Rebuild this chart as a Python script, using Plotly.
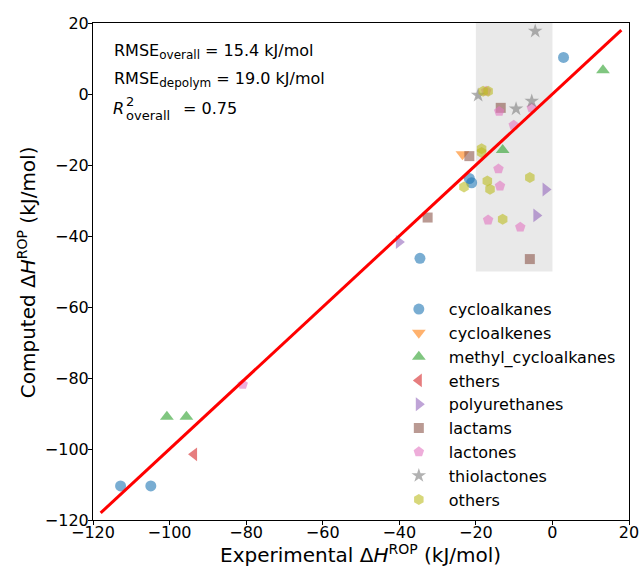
import plotly.graph_objects as go

# ---- data (Experimental, Computed) in kJ/mol ----
categories = ["cycloalkanes", "cycloalkenes", "methyl_cycloalkanes", "ethers",
              "polyurethanes", "lactams", "lactones", "thiolactones", "others"]

cycloalkanes_x = [2.9, -21.7, -21.1, -34.6, -112.8, -104.9]
cycloalkanes_y = [10.3, -23.8, -25.0, -46.3, -110.4, -110.4]

cycloalkenes_x = [-23.5]
cycloalkenes_y = [-17.0]

methyl_cycloalkanes_x = [13.2, -13.0, -100.7, -95.6]
methyl_cycloalkanes_y = [6.7, -15.8, -90.9, -90.9]

ethers_x = [-93.6]
ethers_y = [-101.5]

polyurethanes_x = [-1.8, -4.2, -40.1]
polyurethanes_y = [-26.9, -34.2, -41.7]

lactams_x = [-13.5, -21.7, -32.6, -5.9]
lactams_y = [-3.9, -17.5, -34.8, -46.5]

lactones_x = [-17.3, -13.9, -5.4, -10.1, -14.1, -13.7, -16.8, -8.4, -80.9]
lactones_y = [0.8, -4.9, -3.9, -8.8, -21.1, -25.9, -35.5, -37.5, -81.8]

thiolactones_x = [-4.5, -19.4, -9.5, -5.4]
thiolactones_y = [17.7, -0.35, -4.2, -2.0]

others_x = [-18.1, -16.8, -18.5, -18.5, -23.1, -17.0, -16.3, -5.9, -13.0]
others_y = [0.8, 0.8, -15.4, -16.5, -26.2, -24.5, -26.8, -23.5, -35.3]

parity_x = [-118, 18]
parity_y = [-118, 18]

band_x = [-20, 0]
band_y = [-50, 20]

x_ticks = [-120, -100, -80, -60, -40, -20, 0, 20]
y_ticks = [-120, -100, -80, -60, -40, -20, 0, 20]

series = [
    (cycloalkanes_x, cycloalkanes_y, "#1f77b4", "circle", 11),
    (cycloalkenes_x, cycloalkenes_y, "#ff7f0e", "triangle-down", 12),
    (methyl_cycloalkanes_x, methyl_cycloalkanes_y, "#2ca02c", "triangle-up", 12),
    (ethers_x, ethers_y, "#d62728", "triangle-left", 12),
    (polyurethanes_x, polyurethanes_y, "#9467bd", "triangle-right", 12),
    (lactams_x, lactams_y, "#8c564b", "square", 10),
    (lactones_x, lactones_y, "#e377c2", "pentagon", 11),
    (thiolactones_x, thiolactones_y, "#7f7f7f", "star", 11),
    (others_x, others_y, "#bcbd22", "hexagon", 11),
]

fig = go.Figure()
for name, (xs, ys, col, sym, sz) in zip(categories, series):
    fig.add_trace(go.Scatter(
        x=xs, y=ys, mode="markers", name=name,
        marker=dict(color=col, symbol=sym, size=sz, opacity=0.6,
                    line=dict(width=0)),
    ))

fig.add_trace(go.Scatter(x=parity_x, y=parity_y, mode="lines",
                         line=dict(color="red", width=3), showlegend=False))

fig.add_shape(type="rect", xref="x", yref="y",
              x0=band_x[0], x1=band_x[1], y0=band_y[0], y1=band_y[1],
              fillcolor="rgba(211,211,211,0.5)", line=dict(width=0), layer="below")

font_family = "DejaVu Sans"
axis_common = dict(showgrid=False, zeroline=False, showline=True, linecolor="black",
                   linewidth=1, mirror=True, ticks="outside", ticklen=4,
                   tickwidth=1, tickcolor="black", automargin=False,
                   tickfont=dict(size=16, color="black", family=font_family))

fig.update_xaxes(range=[-120, 20], tickvals=x_ticks, ticklabelstandoff=-6, **axis_common)
fig.update_yaxes(range=[-120, 20], tickvals=y_ticks, ticklabelstandoff=-4, **axis_common)

def px2paper(px, py):
    return (px - 93) / 536.3, (520 - py) / 497.3

title_font = dict(size=20, color="black", family=font_family)
tx, ty = px2paper(361, 554)
fig.add_annotation(xref="paper", yref="paper", x=tx, y=ty, xanchor="center",
                   yanchor="middle", showarrow=False, font=title_font,
                   text="Experimental Δ<i>H</i><sup>ROP</sup> (kJ/mol)")
tx, ty = px2paper(27, 272)
fig.add_annotation(xref="paper", yref="paper", x=tx, y=ty, xanchor="center",
                   yanchor="middle", showarrow=False, font=title_font, textangle=-90,
                   text="Computed Δ<i>H</i><sup>ROP</sup> (kJ/mol)")

# Annotation text box (top-left)
ann_font = dict(size=16, color="black", family=font_family)
small_font = dict(size=13, color="black", family=font_family)
sub = "<sub><span style='font-size:12px'>{}</span></sub>"
annots = []
x0, y1 = px2paper(112, 51)
annots.append(dict(x=x0, y=y1, text="RMSE" + sub.format("overall") + " = 15.4 kJ/mol"))
x0, y2 = px2paper(112, 79)
annots.append(dict(x=x0, y=y2, text="RMSE" + sub.format("depolym") + " = 19.0 kJ/mol"))
x0, y3 = px2paper(111, 108)
annots.append(dict(x=x0, y=y3, text="<i>R</i>"))
xs, ys = px2paper(124, 101)
annots.append(dict(x=xs, y=ys, text="2", font=small_font))
xs, ys = px2paper(124, 115)
annots.append(dict(x=xs, y=ys, text="overall", font=small_font))
xs, ys = px2paper(181, 108)
annots.append(dict(x=xs, y=ys, text="= 0.75"))
for a in annots:
    a.setdefault("font", ann_font)
    fig.add_annotation(xref="paper", yref="paper", xanchor="left", yanchor="middle",
                       showarrow=False, **a)

lx, ly = px2paper(389, 292)
fig.update_layout(
    width=640, height=569,
    margin=dict(l=93, r=11, t=23, b=49),
    plot_bgcolor="white", paper_bgcolor="white",
    font=dict(family=font_family, color="black"),
    legend=dict(x=lx, y=ly, xanchor="left", yanchor="top",
                bgcolor="rgba(0,0,0,0)", borderwidth=0, itemwidth=50,
                font=dict(size=16, color="black", family=font_family),
                tracegroupgap=0),
)

fig.write_html("out.html")
